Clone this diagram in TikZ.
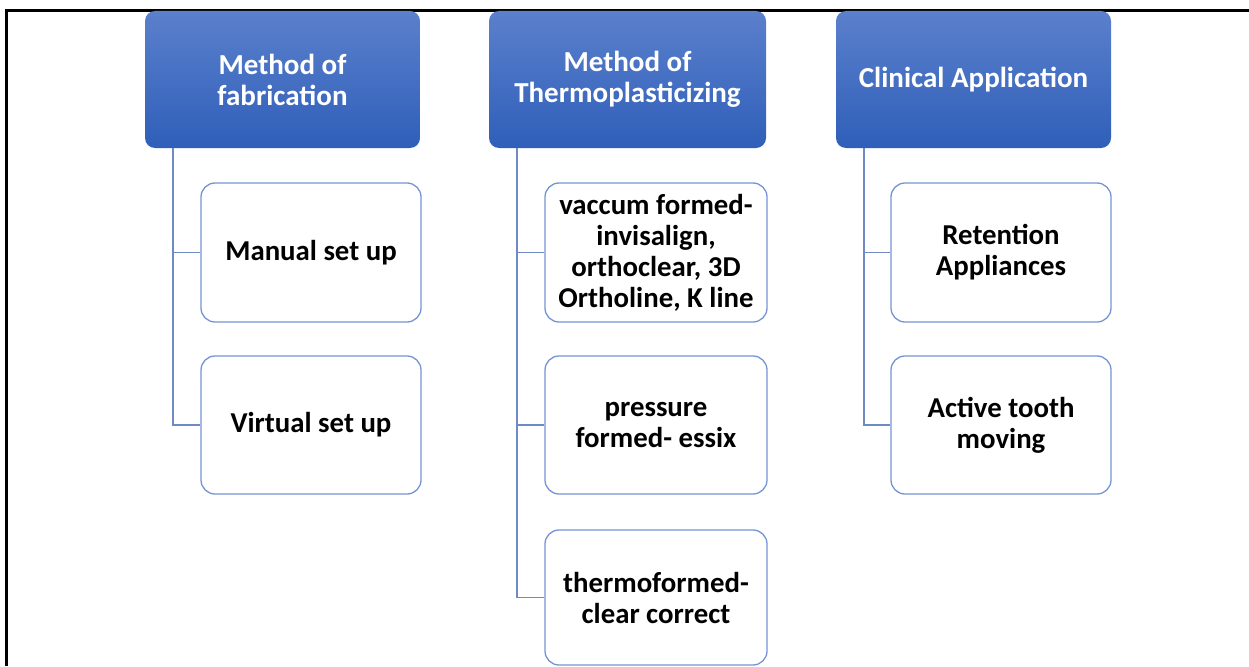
\documentclass[tikz,border=0pt]{standalone}
\usepackage{fontspec}
\setmainfont{Carlito}
\begin{document}
\begin{tikzpicture}[x=1pt,y=-1pt,
  head/.style={rounded corners=10pt, top color=hdtop, bottom color=hdbot, draw=none,
    minimum height=137pt, align=center, text=white, inner sep=0pt,
    font=\bfseries\fontsize{29}{31}\selectfont},
  item/.style={rounded corners=14pt, draw=bxline, line width=1.3pt, fill=white,
    align=center, text=black, inner sep=0pt, minimum width=220pt,
    font=\bfseries\fontsize{28.8}{31}\selectfont},
  conn/.style={draw=cnline, line width=1.4pt}]
\definecolor{hdtop}{HTML}{5B80CC}
\definecolor{hdbot}{HTML}{2F5FB9}
\definecolor{bxline}{HTML}{7594D4}
\definecolor{cnline}{HTML}{6F8BC4}
\useasboundingbox (0,0) rectangle (1249,666);
\draw[line width=2.2pt] (6.5,666) -- (6.5,10.5) -- (1249,10.5);

\node[head, minimum width=275pt] (h1) at (282.5,79.5) {Method of\\fabrication};
\node[head, minimum width=277pt] (h2) at (627.5,79.5) {Method of\\Thermoplasticizing};
\node[head, minimum width=275pt] (h3) at (973.5,79.5) {Clinical Application};

\node[item, minimum height=139pt] (c11) at (311,252.5) {Manual set up};
\node[item, minimum height=138pt] (c12) at (311,425) {Virtual set up};

\node[item, minimum width=222pt, minimum height=139pt] (c21) at (656,252.5) {vaccum formed-\\invisalign,\\orthoclear, 3D\\Ortholine, K line};
\node[item, minimum width=222pt, minimum height=138pt] (c22) at (656,425) {pressure\\formed- essix};
\node[item, minimum width=222pt, minimum height=135pt] (c23) at (656,597.5) {thermoformed-\\clear correct};

\node[item, minimum height=139pt] (c31) at (1001,252.5) {Retention\\Appliances};
\node[item, minimum height=138pt] (c32) at (1001,425) {Active tooth\\moving};

\draw[conn] ([xshift=28pt]h1.south west) |- (c11.west);
\draw[conn] ([xshift=28pt]h1.south west) |- (c12.west);
\draw[conn] ([xshift=28pt]h2.south west) |- (c21.west);
\draw[conn] ([xshift=28pt]h2.south west) |- (c22.west);
\draw[conn] ([xshift=28pt]h2.south west) |- (c23.west);
\draw[conn] ([xshift=28pt]h3.south west) |- (c31.west);
\draw[conn] ([xshift=28pt]h3.south west) |- (c32.west);
\end{tikzpicture}
\end{document}
